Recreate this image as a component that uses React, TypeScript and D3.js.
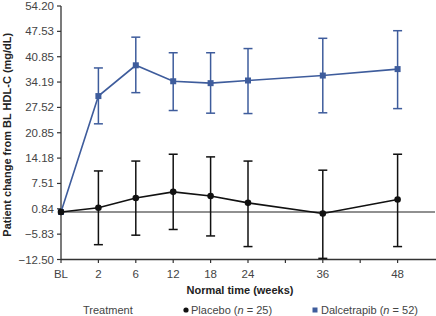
import React from "react";
import * as d3 from "d3";

const xLabels = ["BL", "2", "6", "12", "18", "24", "", "36", "", "48"];
const timePoints = ["BL", "2", "6", "12", "18", "24", "36", "48"];
const yTicks = [-12.5, -5.83, 0.84, 7.51, 14.18, 20.85, 27.52, 34.19, 40.85, 47.53, 54.2];

const placeboMean = [0, 1.1, 3.7, 5.3, 4.2, 2.4, -0.4, 3.3];
const placeboLow = [0, -8.6, -6.1, -4.6, -6.3, -9.1, -12.2, -9.1];
const placeboHigh = [0, 10.8, 13.4, 15.2, 14.5, 13.4, 11.0, 15.2];

const dalMean = [0, 30.5, 38.6, 34.4, 33.9, 34.6, 35.9, 37.6];
const dalLow = [0, 23.2, 31.4, 26.7, 26.0, 25.9, 26.1, 27.2];
const dalHigh = [0, 37.9, 46.0, 41.9, 41.9, 43.0, 45.7, 47.7];

const W = 436;
const H = 316;
const FONT = "'Liberation Sans', Arial, Helvetica, sans-serif";
const BLUE = "#3e5c9c";
const BLACK = "#111";

export default function App() {
  const x = d3.scaleLinear().domain([0, 10]).range([61, 435]);
  const y = d3.scaleLinear().domain([-12.5, 54.2]).range([259.5, 6]);
  const xi = (t: string) => x(xLabels.indexOf(t));

  const line = d3
    .line<number>()
    .x((_, i) => xi(timePoints[i]))
    .y((d) => y(d));

  const series = [
    { mean: dalMean, low: dalLow, high: dalHigh, color: BLUE, shape: "square" },
    { mean: placeboMean, low: placeboLow, high: placeboHigh, color: BLACK, shape: "circle" },
  ];

  return (
    <svg
      width={W}
      height={H}
      style={{ position: "absolute", left: 0, top: 0, background: "#fff" }}
      fontFamily={FONT}
    >
      <rect width={W} height={H} fill="#fff" />
      <line x1={x(0)} x2={435} y1={y(0)} y2={y(0)} stroke="#222" strokeWidth={1.2} />
      <line x1={x(0)} x2={x(0)} y1={y(54.2)} y2={y(-12.5)} stroke="#333" strokeWidth={1.3} />
      {yTicks.map((t) => (
        <g key={t}>
          <line x1={x(0) - 4} x2={x(0)} y1={y(t)} y2={y(t)} stroke="#333" strokeWidth={1.2} />
          <text x={x(0) - 7} y={y(t)} dy="0.35em" textAnchor="end" fontSize={11.5} fill="#444">
            {t < 0 ? "\u2212" + Math.abs(t).toFixed(2) : t.toFixed(2)}
          </text>
        </g>
      ))}
      <line x1={x(0)} x2={436} y1={y(-12.5)} y2={y(-12.5)} stroke="#333" strokeWidth={1.3} />
      {xLabels.map((l, i) => (
        <g key={i}>
          <line x1={x(i)} x2={x(i)} y1={y(-12.5)} y2={y(-12.5) + 3.5} stroke="#333" strokeWidth={1.2} />
          {l && (
            <text x={x(i)} y={278} textAnchor="middle" fontSize={11.5} fill="#444">
              {l}
            </text>
          )}
        </g>
      ))}
      {series.map((s, si) => (
        <g key={si}>
          <path d={line(s.mean) || ""} fill="none" stroke={s.color} strokeWidth={1.6} />
          {s.mean.map((m, i) => {
            if (i === 0) return null;
            const cx = xi(timePoints[i]);
            return (
              <g key={i} stroke={s.color} strokeWidth={1.5}>
                <line x1={cx} x2={cx} y1={y(s.high[i])} y2={y(s.low[i])} />
                <line x1={cx - 4.5} x2={cx + 4.5} y1={y(s.high[i])} y2={y(s.high[i])} />
                <line x1={cx - 4.5} x2={cx + 4.5} y1={y(s.low[i])} y2={y(s.low[i])} />
              </g>
            );
          })}
          {s.mean.map((m, i) => {
            const cx = xi(timePoints[i]);
            return s.shape === "square" ? (
              <rect key={"p" + i} x={cx - 3} y={y(m) - 3} width={6} height={6} fill={s.color} />
            ) : (
              <circle key={"p" + i} cx={cx} cy={y(m)} r={3.3} fill={s.color} />
            );
          })}
        </g>
      ))}
      <text x={240} y={294} textAnchor="middle" fontSize={11} fontWeight="bold" fill="#222">
        Normal time (weeks)
      </text>
      <text
        transform={`translate(11, ${y(20.85) + 2}) rotate(-90)`}
        textAnchor="middle"
        fontSize={11}
        fontWeight="bold"
        fill="#222"
      >
        Patient change from BL HDL-C (mg/dL)
      </text>
      <text x={83} y={314} fontSize={11} fill="#444">
        Treatment
      </text>
      <circle cx={186} cy={310} r={2.6} fill={BLACK} />
      <text x={191} y={314} fontSize={11} fill="#444">
        Placebo (<tspan fontStyle="italic">n</tspan> = 25)
      </text>
      <rect x={312.5} y={307.5} width={5} height={5} fill={BLUE} />
      <text x={321} y={314} fontSize={11} fill="#444">
        Dalcetrapib (<tspan fontStyle="italic">n</tspan> = 52)
      </text>
    </svg>
  );
}
